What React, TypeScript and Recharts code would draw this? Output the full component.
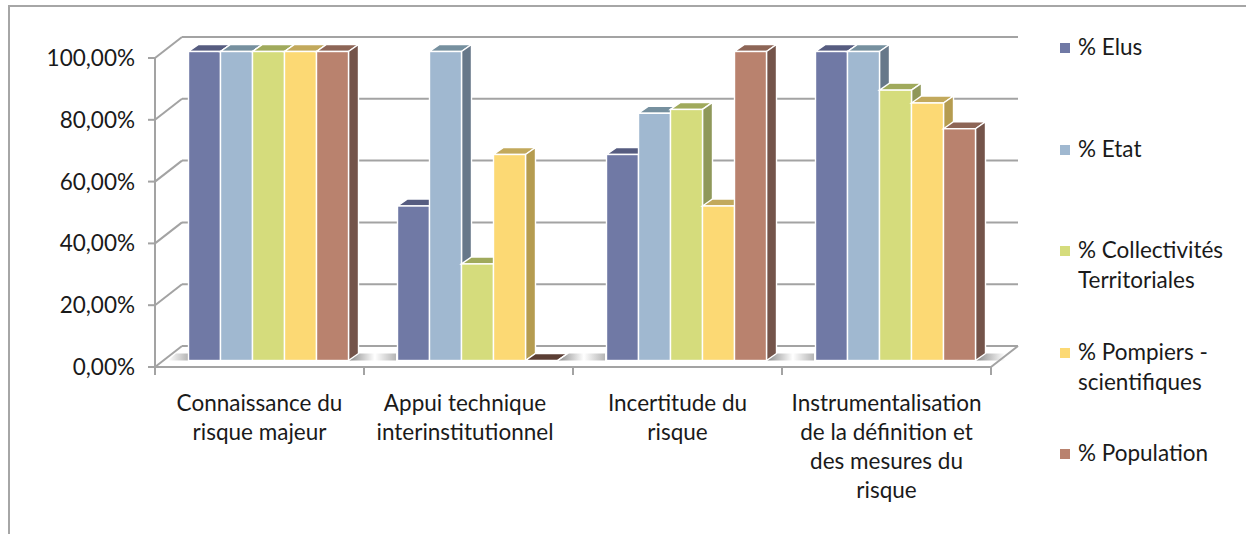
import { BarChart, Bar, XAxis, YAxis, CartesianGrid } from "recharts";

const categories = [
  "Connaissance du risque majeur",
  "Appui technique interinstitutionnel",
  "Incertitude du risque",
  "Instrumentalisation de la définition et des mesures du risque",
];
const categoryLines = [
  ["Connaissance du", "risque majeur"],
  ["Appui technique", "interinstitutionnel"],
  ["Incertitude du", "risque"],
  ["Instrumentalisation", "de la définition et", "des mesures du", "risque"],
];
const labelNudge = [0, -3.5, 0, 0];

const elus = [100, 50, 66.67, 100];
const etat = [100, 100, 80, 100];
const collectivites = [100, 31.25, 81.25, 87.5];
const pompiers = [100, 66.67, 50, 83.33];
const population = [100, 0, 100, 75];

const seriesNames = ["% Elus", "% Etat", "% Collectivités Territoriales", "% Pompiers - scientifiques", "% Population"];
const seriesValues = [elus, etat, collectivites, pompiers, population];
const frontColors = ["#7079a5", "#a0b8d0", "#d5dc7c", "#fcd974", "#b9826e"];
const topColors = ["#565c80", "#76909f", "#a0aa5c", "#c2a95c", "#8d6556"];
const sideColors = ["#565c80", "#67788a", "#8f985a", "#b59c50", "#74544a"];
const yTicks = [0, 20, 40, 60, 80, 100];

const data = categories.map((name, i) => ({
  name,
  s0: seriesValues[0][i],
  s1: seriesValues[1][i],
  s2: seriesValues[2][i],
  s3: seriesValues[3][i],
  s4: seriesValues[4][i],
}));

const FONT = "Lato, sans-serif";
const FONT_SIZE = 22.5;
const AXIS = "#a3a3a3";
// the bars sit a little behind the axis plane, the walls further back
const BAR_DX = 8.5;
const BAR_DY = -6.5;
const DEPTH_X = 10;
const DEPTH_Y = 7;
const WALL_DX = 27;
const WALL_DY = -21;
const BAND = 209;

const Box3D = (props: any) => {
  const { x, y, width, height, serie } = props;
  const l = x + BAR_DX;
  const t = y + BAR_DY;
  const r = l + width;
  const b = t + height;
  const dx = DEPTH_X;
  const dy = DEPTH_Y;
  // a zero bar only shows its lid, which is darker in the reference
  const lid = height === 0 ? "#5b3e34" : topColors[serie];
  return (
    <g stroke="#fff" strokeWidth={1.4}>
      <polygon points={`${l},${t} ${l + dx},${t - dy} ${r + dx},${t - dy} ${r},${t}`} fill={lid} />
      <polygon points={`${r},${t} ${r + dx},${t - dy} ${r + dx},${b - dy} ${r},${b}`} fill={sideColors[serie]} />
      <rect x={l} y={t} width={width} height={height} fill={frontColors[serie]} />
    </g>
  );
};

const FloorShadow = ({ left, right, y, fill }: any) => (
  <polygon points={`${left},${y} ${left + DEPTH_X},${y - DEPTH_Y} ${right},${y - DEPTH_Y} ${right},${y}`} fill={fill} />
);

const GridLine = (props: any) => {
  const { x1, x2, y1, index } = props;
  const isFloor = Math.abs(y1 - 367) < 2;
  const base = y1 + BAR_DY;
  return (
    <g key={index}>
      {isFloor && (
        <g>
          <polygon points={`${x1 + 13},${base} ${x1 + 21},${base - DEPTH_Y} ${x1 + 33},${base - DEPTH_Y} ${x1 + 33},${base}`} fill="url(#shadowRight)" />
          {[1, 2, 3].map((n) => (
            <FloorShadow key={n} left={x1 + n * BAND - 15} right={x1 + n * BAND + 32} y={base} fill="url(#shadowGap)" />
          ))}
          <FloorShadow left={x2 - 15} right={x2 + 14} y={base} fill="url(#shadowLeft)" />
        </g>
      )}
      <line x1={x1 + WALL_DX} x2={x2 + WALL_DX} y1={y1 + WALL_DY} y2={y1 + WALL_DY} stroke={AXIS} strokeWidth={2} />
      <line x1={x1} x2={x1 + WALL_DX} y1={y1} y2={y1 + WALL_DY} stroke={AXIS} strokeWidth={2} />
      {isFloor && <line x1={x2} x2={x2 + WALL_DX} y1={y1} y2={y1 + WALL_DY} stroke={AXIS} strokeWidth={2} />}
    </g>
  );
};

const CategoryTick = (props: any) => {
  const { x, index } = props;
  const lines = categoryLines[index];
  return (
    <g>
      <line x1={x - BAND / 2} x2={x - BAND / 2} y1={367} y2={375} stroke={AXIS} strokeWidth={2} />
      <line x1={x + BAND / 2} x2={x + BAND / 2} y1={367} y2={375} stroke={AXIS} strokeWidth={2} />
      <text x={x + labelNudge[index]} y={411} textAnchor="middle" fontFamily={FONT} fontSize={FONT_SIZE} fill="#1a1a1a">
        {lines.map((line, i) => (
          <tspan key={line} x={x + labelNudge[index]} dy={i === 0 ? 0 : 29}>
            {line}
          </tspan>
        ))}
      </text>
    </g>
  );
};

const legendTops = [32, 134, 235, 337, 438];

const App = () => {
  return (
    <div style={{ position: "absolute", left: 0, top: 0, width: 1246, height: 534, background: "#fff", overflow: "hidden" }}>
      <div
        style={{
          position: "absolute",
          left: 7.5,
          top: 4.5,
          width: 1236,
          height: 540,
          borderTop: "2px solid #a6a6a6",
          borderLeft: "2px solid #a6a6a6",
          borderRight: "2px solid #b8b8b8",
        }}
      />
      <div style={{ position: "absolute", left: 0, top: 0 }}>
        <BarChart
          width={1246}
          height={534}
          data={data}
          margin={{ top: 58, right: 255, bottom: 107, left: 0 }}
          barSize={32}
          barGap={0}
          barCategoryGap={24}
        >
          <defs>
            <linearGradient id="shadowGap" x1="0" x2="1" y1="0" y2="0">
              <stop offset="0" stopColor="#8a8a8a" />
              <stop offset="0.55" stopColor="#ffffff" />
              <stop offset="1" stopColor="#b5b5b5" />
            </linearGradient>
            <linearGradient id="shadowRight" x1="0" x2="1" y1="0" y2="0">
              <stop offset="0" stopColor="#ffffff" />
              <stop offset="1" stopColor="#b5b5b5" />
            </linearGradient>
            <linearGradient id="shadowLeft" x1="0" x2="1" y1="0" y2="0">
              <stop offset="0" stopColor="#8a8a8a" />
              <stop offset="1" stopColor="#ffffff" />
            </linearGradient>
          </defs>
          <CartesianGrid vertical={false} horizontal={GridLine} />
          <XAxis
            dataKey="name"
            height={60}
            interval={0}
            tickLine={false}
            axisLine={{ stroke: AXIS, strokeWidth: 2 }}
            tick={CategoryTick}
          />
          <YAxis
            width={155}
            domain={[0, 100]}
            ticks={yTicks}
            interval={0}
            tickSize={7}
            tickMargin={13}
            tickLine={{ stroke: AXIS, strokeWidth: 2 }}
            axisLine={{ stroke: AXIS, strokeWidth: 2 }}
            tickFormatter={(v: number) => `${v},00%`}
            tick={{ fontFamily: FONT, fontSize: FONT_SIZE, fill: "#1a1a1a" }}
          />
          {seriesNames.map((name, i) => (
            <Bar
              key={name}
              dataKey={`s${i}`}
              name={name}
              fill={frontColors[i]}
              isAnimationActive={false}
              shape={(p: any) => <Box3D {...p} serie={i} />}
            />
          ))}
        </BarChart>
      </div>
      {seriesNames.map((name, i) => (
        <div key={name} style={{ position: "absolute", left: 1060, top: legendTops[i], width: 175 }}>
          <div style={{ position: "absolute", left: 0, top: 11, width: 10, height: 10, background: frontColors[i] }} />
          <div style={{ marginLeft: 18, fontFamily: FONT, fontSize: FONT_SIZE, lineHeight: "30px", color: "#1a1a1a", width: 157 }}>
            {name}
          </div>
        </div>
      ))}
    </div>
  );
};

export default App;
